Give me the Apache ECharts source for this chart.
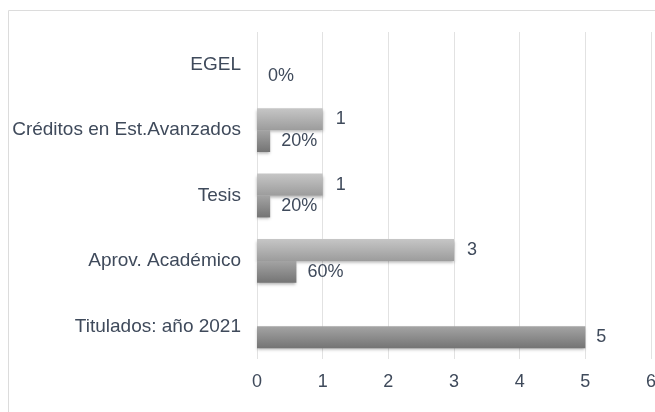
<!DOCTYPE html>
<html>
<head>
    <meta charset="utf-8">
    <title>Titulados</title>
    <script src="https://cdn.jsdelivr.net/npm/echarts@6/dist/echarts.min.js"></script>
    <style>
        html, body { margin: 0; padding: 0; background: #fff; }
        #chart { width: 655px; height: 412px; }
    </style>
</head>
<body>
<div id="chart"></div>
<script>
    // categorias (de abajo hacia arriba)
    var categories = ['Titulados: año 2021', 'Aprov. Académico', 'Tesis', 'Créditos en Est.Avanzados', 'EGEL'];
    // cantidad (barra clara)
    var countValues = [null, 3, 1, 1, null];
    // porcentaje (barra oscura), titulados va en la misma serie
    var pctValues = [5, 0.6, 0.2, 0.2, 0];
    var pctLabels = ['5', '60%', '20%', '20%', '0%'];
    var xTicks = [0, 1, 2, 3, 4, 5, 6];

    var txtColor = '#3f4a5b';
    var font = 'Liberation Sans, Arial, sans-serif';

    var $echart = echarts.init(document.getElementById('chart'));
    $echart.setOption({
        animation: false,
        graphic: [{
            type: 'rect',
            shape: { x: 8.5, y: 10.5, width: 700, height: 500 },
            style: { fill: 'none', stroke: '#dcdcdc', lineWidth: 1 }
        }],
        grid: {
            left: 257,
            right: 4,
            top: 32,
            bottom: 53,
            outerBoundsMode: 'none'
        },
        xAxis: {
            type: 'value',
            min: xTicks[0],
            max: xTicks[xTicks.length - 1],
            interval: 1,
            axisLine: { show: false },
            axisTick: { show: false },
            axisLabel: { color: txtColor, fontSize: 18, fontFamily: font, margin: 14 },
            splitLine: { show: true, lineStyle: { color: '#e2e2e2' } }
        },
        yAxis: {
            type: 'category',
            data: categories,
            axisLine: { show: false },
            axisTick: { show: false },
            axisLabel: { color: txtColor, fontSize: 19, fontFamily: font, margin: 16 }
        },
        series: [
            {
                name: 'cantidad',
                type: 'bar',
                data: countValues,
                barGap: '0%',
                barCategoryGap: '33%',
                itemStyle: {
                    color: new echarts.graphic.LinearGradient(0, 0, 0, 1, [
                        { offset: 0, color: '#c6c6c6' },
                        { offset: 1, color: '#9c9c9c' }
                    ]),
                    shadowBlur: 3,
                    shadowOffsetY: 2,
                    shadowColor: 'rgba(0,0,0,0.3)'
                },
                label: {
                    show: true,
                    position: 'right',
                    distance: 13,
                    color: txtColor,
                    fontSize: 18,
                    fontFamily: font
                }
            },
            {
                name: 'porcentaje',
                type: 'bar',
                data: pctValues,
                itemStyle: {
                    color: new echarts.graphic.LinearGradient(0, 0, 0, 1, [
                        { offset: 0, color: '#a4a4a4' },
                        { offset: 1, color: '#747474' }
                    ]),
                    shadowBlur: 3,
                    shadowOffsetY: 2,
                    shadowColor: 'rgba(0,0,0,0.3)'
                },
                label: {
                    show: true,
                    position: 'right',
                    distance: 11,
                    color: txtColor,
                    fontSize: 18,
                    fontFamily: font,
                    formatter: function (p) { return pctLabels[p.dataIndex]; }
                }
            }
        ]
    });
</script>
</body>
</html>
